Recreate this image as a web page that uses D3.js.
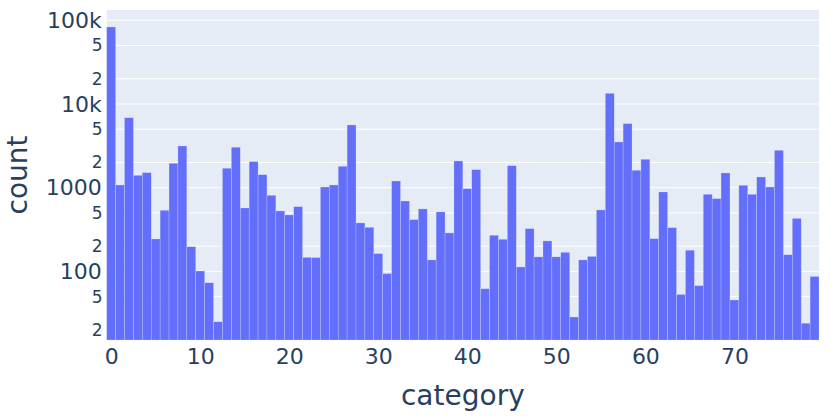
<!DOCTYPE html>
<html><head><meta charset="utf-8">
<script src="https://cdn.jsdelivr.net/npm/d3@7"></script>
<style>body{margin:0;background:#fff}svg{display:block}</style>
</head><body>
<svg id="chart" width="831" height="416"></svg>
<script>
const categories = d3.range(0, 80);
const counts = [83200,1077,6850,1406,1512,244,537,1958,3148,197,
  101,73,25,1707,3042,572,2046,1429,811,527,
  472,593,147,146,1019,1077,1802,5611,379,336,
  163,94,1202,693,415,557,137,513,288,2084,
  973,1641,62,270,242,1832,113,324,149,231,
  149,169,28.5,137,151,542,13400,3515,5823,1614,
  2183,246,889,333,53,179,67.5,834,740,1499,
  45.5,1068,834,1342,1019,2797,158,430,24,87];
const xTicks = [0,10,20,30,40,50,60,70];
const yMajor = [100,1000,10000,100000];
const yMajorLabels = ["100","1000","10k","100k"];
const yMinor = [20,50,200,500,2000,5000,20000,50000];
const yMinorLabels = ["2","5","2","5","2","5","2","5"];

const W=831,H=416;
const m={l:106.7,r:819,t:10,b:340};
const svg=d3.select("#chart");
const font="'DejaVu Sans', Verdana, sans-serif";
const tc="#2a3f5f";

const x=d3.scaleLinear().domain([-0.5,79.5]).range([m.l,m.r]);
const y=d3.scaleLog().domain([Math.pow(10,1.18),Math.pow(10,5.123)]).range([m.b,m.t]);

svg.append("rect").attr("x",m.l).attr("y",m.t).attr("width",m.r-m.l).attr("height",m.b-m.t).attr("fill","#E5ECF6");

const g=svg.append("g");
g.selectAll("line.grid").data(yMajor.concat(yMinor)).enter().append("line")
  .attr("x1",m.l).attr("x2",m.r).attr("y1",d=>y(d)).attr("y2",d=>y(d))
  .attr("stroke","#fff").attr("stroke-width",1);

g.selectAll("rect.bar").data(categories).enter().append("rect")
  .attr("x",d=>x(d-0.5)).attr("width",x(1)-x(0))
  .attr("y",(d,i)=>y(counts[i])).attr("height",(d,i)=>m.b-y(counts[i]))
  .attr("fill","#636efa").attr("stroke","#E5ECF6").attr("stroke-width",0.5).attr("stroke-opacity",0.5);

// y axis labels
const yAxisMajor=d3.axisLeft(y).tickValues(yMajor).tickFormat((d,i)=>yMajorLabels[i]).tickSize(0).tickPadding(5);
const ya=svg.append("g").attr("transform",`translate(${m.l},0)`).call(yAxisMajor);
ya.select(".domain").remove();
ya.selectAll("text").attr("font-family",font).attr("font-size",22).attr("fill",tc);
const yAxisMinor=d3.axisLeft(y).tickValues(yMinor).tickFormat((d,i)=>yMinorLabels[i]).tickSize(0).tickPadding(4);
const yb=svg.append("g").attr("transform",`translate(${m.l},0)`).call(yAxisMinor);
yb.select(".domain").remove();
yb.selectAll("text").attr("font-family",font).attr("font-size",17).attr("fill",tc);

const xAxis=d3.axisBottom(x).tickValues(xTicks).tickSize(0).tickPadding(8);
const xa=svg.append("g").attr("transform",`translate(0,${m.b})`).call(xAxis);
xa.select(".domain").remove();
xa.selectAll("text").attr("font-family",font).attr("font-size",22).attr("fill",tc);

svg.append("text").attr("x",(m.l+m.r)/2).attr("y",405).attr("text-anchor","middle")
  .attr("font-family",font).attr("font-size",28).attr("fill",tc).text("category");
svg.append("text").attr("transform",`translate(27,${(m.t+m.b)/2}) rotate(-90)`).attr("text-anchor","middle")
  .attr("font-family",font).attr("font-size",28).attr("fill",tc).text("count");
</script>
</body></html>
